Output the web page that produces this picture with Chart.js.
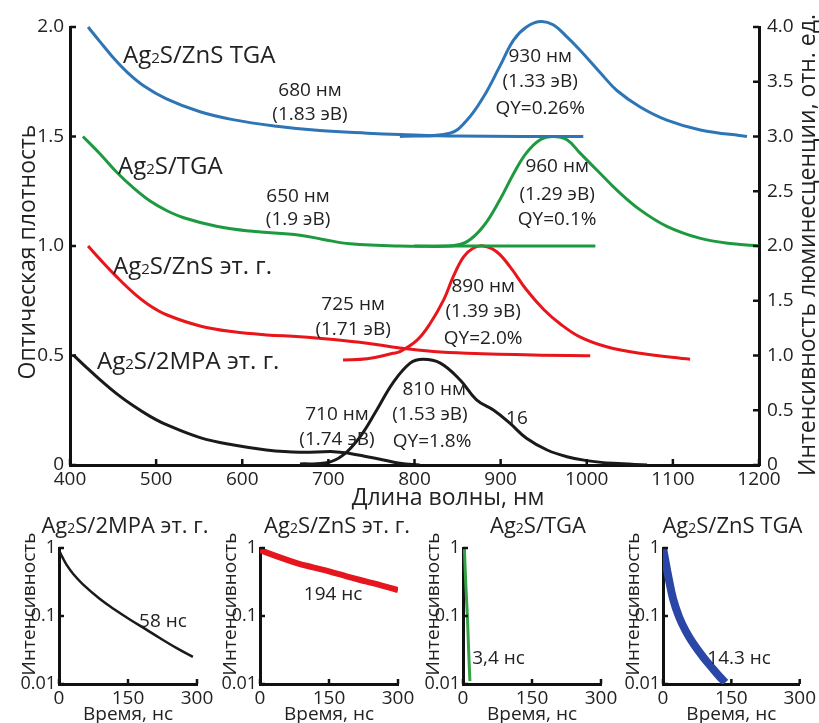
<!DOCTYPE html>
<html>
<head>
<meta charset="utf-8">
<script src="https://cdn.jsdelivr.net/npm/chart.js@4.4.1/dist/chart.umd.min.js"></script>
<style>
  body { margin: 0; background: #fff; width: 819px; height: 723px; overflow: hidden; position: relative; }
  canvas { position: absolute; }
</style>
</head>
<body>
<canvas id="main" width="819" height="510" style="left:0;top:0"></canvas>
<canvas id="d1" width="240" height="215" style="left:0;top:508px"></canvas>
<canvas id="d2" width="240" height="215" style="left:201px;top:508px"></canvas>
<canvas id="d3" width="240" height="215" style="left:404px;top:508px"></canvas>
<canvas id="d4" width="215" height="215" style="left:604px;top:508px"></canvas>
<script>
const FONT = "'Open Sans', sans-serif";
const INK = '#222';

// tick labels
const wlTicks = [400, 500, 600, 700, 800, 900, 1000, 1100, 1200];
const odTicks = [0, 0.5, 1.0, 1.5, 2.0];
const plTicks = [0, 0.5, 1.0, 1.5, 2.0, 2.5, 3.0, 3.5, 4.0];
const timeTicks = [0, 150, 300];
const decayTicks = [0.01, 0.1, 1];

// absorption spectra (left axis, optical density)
const absZnsTgaNm = [421, 435, 450, 466, 485, 512, 551, 589, 640, 690, 745, 783, 850, 996];
const absZnsTgaOD = [2.0, 1.932, 1.861, 1.795, 1.733, 1.672, 1.613, 1.577, 1.547, 1.527, 1.515, 1.509, 1.502, 1.5];
const absTgaNm = [415, 435, 454, 474, 493, 512, 532, 570, 609, 667, 694, 725, 783, 850, 1010];
const absTgaOD = [1.5, 1.42, 1.338, 1.264, 1.205, 1.162, 1.129, 1.09, 1.068, 1.049, 1.03, 1.01, 1.0, 1.0, 1.0];
const absZnsEgNm = [421, 435, 454, 474, 493, 512, 551, 590, 628, 667, 706, 745, 783, 822, 861, 938, 1004];
const absZnsEgOD = [1.0, 0.939, 0.86, 0.785, 0.727, 0.686, 0.635, 0.608, 0.594, 0.586, 0.573, 0.556, 0.534, 0.518, 0.51, 0.502, 0.499];
const abs2mpaNm = [404, 419, 435, 454, 474, 493, 512, 551, 590, 628, 667, 706, 725, 745, 764, 783, 806];
const abs2mpaOD = [0.502, 0.446, 0.389, 0.326, 0.269, 0.222, 0.184, 0.125, 0.091, 0.069, 0.058, 0.061, 0.053, 0.038, 0.023, 0.008, 0.0];

// luminescence spectra (right axis, rel. units)
const plZnsTgaNm = [783, 841, 861, 880, 899, 915, 930, 946, 961, 977, 992, 1016, 1035, 1062, 1093, 1132, 1186];
const plZnsTgaI = [3.0, 3.03, 3.15, 3.36, 3.64, 3.88, 4.0, 4.05, 4.02, 3.91, 3.79, 3.58, 3.42, 3.27, 3.15, 3.06, 3.0];
const plTgaNm = [800, 841, 861, 880, 899, 915, 930, 946, 961, 977, 992, 1016, 1035, 1062, 1093, 1132, 1170, 1200];
const plTgaI = [2.0, 2.0, 2.04, 2.18, 2.42, 2.66, 2.85, 2.97, 3.0, 2.97, 2.85, 2.66, 2.51, 2.33, 2.18, 2.07, 2.02, 2.0];
const plZnsEgNm = [717, 745, 775, 783, 803, 818, 834, 845, 857, 868, 880, 895, 911, 930, 950, 969, 992, 1023, 1062, 1120];
const plZnsEgI = [0.96, 0.97, 1.02, 1.035, 1.14, 1.29, 1.51, 1.72, 1.9, 1.98, 2.0, 1.95, 1.81, 1.6, 1.42, 1.29, 1.17, 1.08, 1.02, 0.965];
const pl2mpaNm = [667, 698, 717, 737, 756, 775, 795, 810, 830, 853, 872, 892, 911, 930, 954, 977, 1000, 1031, 1070];
const pl2mpaI = [0.01, 0.02, 0.09, 0.26, 0.5, 0.75, 0.93, 0.965, 0.93, 0.776, 0.594, 0.5, 0.38, 0.244, 0.137, 0.076, 0.04, 0.015, 0.0];

// luminescence decays (time, ns / normalised intensity)
const decay2mpaT = [0, 8, 17, 31, 52, 89, 120, 154, 190, 220, 255, 291];
const decay2mpaI = [0.93, 0.72, 0.56, 0.414, 0.292, 0.178, 0.126, 0.089, 0.063, 0.047, 0.034, 0.025];
const decayZnsEgT = [0, 40, 80, 115, 152, 190, 232, 265, 300];
const decayZnsEgI = [0.93, 0.74, 0.6, 0.52, 0.45, 0.38, 0.32, 0.28, 0.24];
const decayTgaT = [3, 6, 9.5, 12, 15];
const decayTgaI = [1.0, 0.3, 0.1, 0.035, 0.011];
const decayZnsTgaT = [0, 4, 12, 22, 35, 50, 68, 88, 108, 125, 137];
const decayZnsTgaI = [1.0, 0.72, 0.37, 0.18, 0.098, 0.06, 0.038, 0.025, 0.0172, 0.0127, 0.0105];

const BLUE = '#2e75b6', GREEN = '#1d9a3f', RED = '#e8151b', BLACK = '#1a1a1a';

// text with a small "2" (Ag₂S), centred vertically on y
function drawLabel(ctx, text, x, y, size, align) {
  ctx.save();
  ctx.fillStyle = INK;
  ctx.textAlign = 'left';
  ctx.textBaseline = 'alphabetic';
  const big = size + 'px ' + FONT;
  const small = Math.round(size * 0.62) + 'px ' + FONT;
  const parts = text.split('₂');
  let w = 0;
  parts.forEach((p, i) => {
    ctx.font = big; w += ctx.measureText(p).width;
    if (i < parts.length - 1) { ctx.font = small; w += ctx.measureText('2').width; }
  });
  let cx = align === 'left' ? x : align === 'right' ? x - w : x - w / 2;
  const base = y + size * 0.36;
  parts.forEach((p, i) => {
    ctx.font = big; ctx.fillText(p, cx, base); cx += ctx.measureText(p).width;
    if (i < parts.length - 1) { ctx.font = small; ctx.fillText('2', cx, base); cx += ctx.measureText('2').width; }
  });
  ctx.restore();
}

function drawRotated(ctx, text, x, y, size) {
  ctx.save();
  ctx.translate(x, y);
  ctx.rotate(-Math.PI / 2);
  drawLabel(ctx, text, 0, 0, size, 'center');
  ctx.restore();
}

// short tick marks pointing into the plot
function drawInwardTicks(chart, len) {
  const ctx = chart.ctx;
  ctx.save();
  ctx.strokeStyle = '#111';
  ctx.lineWidth = 2.5;
  Object.values(chart.scales).forEach(s => {
    s.ticks.forEach(t => {
      const p = s.getPixelForValue(t.value);
      ctx.beginPath();
      if (s.position === 'bottom') { ctx.moveTo(p, s.top); ctx.lineTo(p, s.top - len); }
      else if (s.position === 'left') { ctx.moveTo(s.right, p); ctx.lineTo(s.right + len, p); }
      else { ctx.moveTo(s.left, p); ctx.lineTo(s.left - len, p); }
      ctx.stroke();
    });
  });
  ctx.restore();
}

function points(xs, ys) {
  return xs.map((x, i) => ({ x: x, y: ys[i] }));
}

function line(xs, ys, color, axis) {
  return {
    data: points(xs, ys), yAxisID: axis, borderColor: color, borderWidth: 3,
    pointRadius: 0, tension: 0.4, fill: false, clip: false
  };
}

function axisStyle(extra) {
  return Object.assign({
    grid: { display: false, drawTicks: false },
    border: { color: '#111', width: 3 },
    ticks: { color: INK, font: { family: FONT, size: 19 }, maxRotation: 0, autoSkip: false }
  }, extra);
}

// notes on the main plot, placed in wavelength / optical density units
const mainNotes = [
  ['Ag₂S/ZnS TGA', 461.6, 1.877, 'left', 24],
  ['680 нм', 678.7, 1.717, 'center', 19],
  ['(1.83 эВ)', 678.7, 1.607, 'center', 19],
  ['Ag₂S/TGA', 455.7, 1.37, 'left', 24],
  ['650 нм', 664.8, 1.233, 'center', 19],
  ['(1.9 эВ)', 664.8, 1.128, 'center', 19],
  ['Ag₂S/ZnS эт. г.', 450, 0.913, 'left', 24],
  ['725 нм', 728.7, 0.74, 'center', 19],
  ['(1.71 эВ)', 728.7, 0.626, 'center', 19],
  ['Ag₂S/2MPA эт. г.', 431.4, 0.479, 'left', 24],
  ['710 нм', 710, 0.237, 'center', 19],
  ['(1.74 эВ)', 710, 0.123, 'center', 19],
  ['810 нм', 822.8, 0.352, 'center', 19],
  ['(1.53 эВ)', 818, 0.237, 'center', 19],
  ['QY=1.8%', 820.4, 0.114, 'center', 19],
  ['16', 919, 0.219, 'center', 19],
  ['890 нм', 879.7, 0.822, 'center', 19],
  ['(1.39 эВ)', 879.7, 0.708, 'center', 19],
  ['QY=2.0%', 879.7, 0.584, 'center', 19],
  ['930 нм', 945.9, 1.872, 'center', 19],
  ['(1.33 эВ)', 945.9, 1.758, 'center', 19],
  ['QY=0.26%', 945.9, 1.635, 'center', 19],
  ['960 нм', 965.6, 1.37, 'center', 19],
  ['(1.29 эВ)', 965.6, 1.242, 'center', 19],
  ['QY=0.1%', 965.6, 1.128, 'center', 19]
];

new Chart(document.getElementById('main'), {
  type: 'line',
  data: {
    datasets: [
      line(absZnsTgaNm, absZnsTgaOD, BLUE, 'y'),
      line(plZnsTgaNm, plZnsTgaI, BLUE, 'y2'),
      line(absTgaNm, absTgaOD, GREEN, 'y'),
      line(plTgaNm, plTgaI, GREEN, 'y2'),
      line(absZnsEgNm, absZnsEgOD, RED, 'y'),
      line(plZnsEgNm, plZnsEgI, RED, 'y2'),
      line(abs2mpaNm, abs2mpaOD, BLACK, 'y'),
      line(pl2mpaNm, pl2mpaI, BLACK, 'y2')
    ]
  },
  options: {
    responsive: false,
    animation: false,
    layout: { padding: { top: 27, left: 0, right: 0, bottom: 0 } },
    plugins: { legend: { display: false }, tooltip: { enabled: false } },
    scales: {
      x: axisStyle({
        type: 'linear', min: 400, max: 1200,
        afterBuildTicks: s => { s.ticks = wlTicks.map(v => ({ value: v })); },
        afterFit: s => { s.height = 45; }
      }),
      y: axisStyle({
        position: 'left', min: 0, max: 2,
        afterBuildTicks: s => { s.ticks = odTicks.map(v => ({ value: v })); },
        afterFit: s => { s.width = 70; }
      }),
      y2: axisStyle({
        position: 'right', min: 0, max: 4,
        afterBuildTicks: s => { s.ticks = plTicks.map(v => ({ value: v })); },
        afterFit: s => { s.width = 60; }
      })
    }
  },
  plugins: [{
    id: 'mainText',
    beforeInit(chart) {
      const o = chart.options.scales;
      o.x.ticks.padding = 3;
      o.y.ticks.padding = 6;
      o.y2.ticks.padding = 8;
      o.x.ticks.callback = v => String(v);
      o.y.ticks.callback = v => v === 0 ? '0' : v.toFixed(1);
      o.y2.ticks.callback = v => v === 0 ? '0' : v.toFixed(1);
    },
    afterDraw(chart) {
      const ctx = chart.ctx;
      const xs = chart.scales.x, ys = chart.scales.y;
      drawInwardTicks(chart, 6);
      mainNotes.forEach(n => {
        drawLabel(ctx, n[0], xs.getPixelForValue(n[1]), ys.getPixelForValue(n[2]), n[4], n[3]);
      });
      drawRotated(ctx, 'Оптическая плотность', 27, 252, 23);
      drawRotated(ctx, 'Интенсивность люминесценции, отн. ед.', 807, 245, 23);
      drawLabel(ctx, 'Длина волны, нм', 448, 497, 23, 'center');
    }
  }]
});

function decayChart(id, ts, vals, color, width, title, note, padRight) {
  return new Chart(document.getElementById(id), {
    type: 'line',
    data: {
      datasets: [{
        data: points(ts, vals), borderColor: color, borderWidth: width,
        pointRadius: 0, tension: 0.4, fill: false
      }]
    },
    options: {
      responsive: false,
      animation: false,
      layout: { padding: { top: 40, left: 0, right: padRight, bottom: 0 } },
      plugins: { legend: { display: false }, tooltip: { enabled: false } },
      scales: {
        x: axisStyle({
          type: 'linear', min: 0, max: 300,
          afterBuildTicks: s => { s.ticks = timeTicks.map(v => ({ value: v })); },
          afterFit: s => { s.height = 39; }
        }),
        y: axisStyle({
          type: 'logarithmic', position: 'left', min: 0.01, max: 1,
          afterBuildTicks: s => { s.ticks = decayTicks.map(v => ({ value: v })); },
          afterFit: s => { s.width = 59; }
        })
      }
    },
    plugins: [{
      id: 'decayText',
      beforeInit(chart) {
        const o = chart.options.scales;
        o.x.ticks.padding = 3;
        o.x.ticks.font = { family: FONT, size: 19 };
        o.y.ticks.padding = 3;
        o.y.ticks.font = { family: FONT, size: 18 };
        o.y.ticks.callback = v => String(v);
        o.x.ticks.callback = v => String(v);
      },
      afterDraw(chart) {
        const ctx = chart.ctx, a = chart.chartArea;
        drawInwardTicks(chart, 5);
        const cx = (a.left + a.right) / 2;
        drawLabel(ctx, title[0], cx + title[1], a.top - 23, 22, 'center');
        drawRotated(ctx, 'Интенсивность', a.left - 31, a.top + 56, 19);
        drawLabel(ctx, 'Время, нс', cx, a.bottom + 29, 19, 'center');
        drawLabel(ctx, note[0], chart.scales.x.getPixelForValue(note[1]),
          chart.scales.y.getPixelForValue(note[2]), 19, note[3]);
      }
    }]
  });
}

decayChart('d1', decay2mpaT, decay2mpaI, BLACK, 2.5, ['Ag₂S/2MPA эт. г.', -3], ['58 нс', 226, 0.087, 'center'], 43);
decayChart('d2', decayZnsEgT, decayZnsEgI, '#e5161d', 6, ['Ag₂S/ZnS эт. г.', 8], ['194 нс', 159, 0.218, 'center'], 43);
decayChart('d3', decayTgaT, decayTgaI, '#35a046', 3, ['Ag₂S/TGA', 6], ['3,4 нс', 20, 0.025, 'left'], 43);
decayChart('d4', decayZnsTgaT, decayZnsTgaI, '#2a47a8', 8, ['Ag₂S/ZnS TGA', 1], ['14.3 нс', 167, 0.025, 'center'], 18);
</script>
</body>
</html>
